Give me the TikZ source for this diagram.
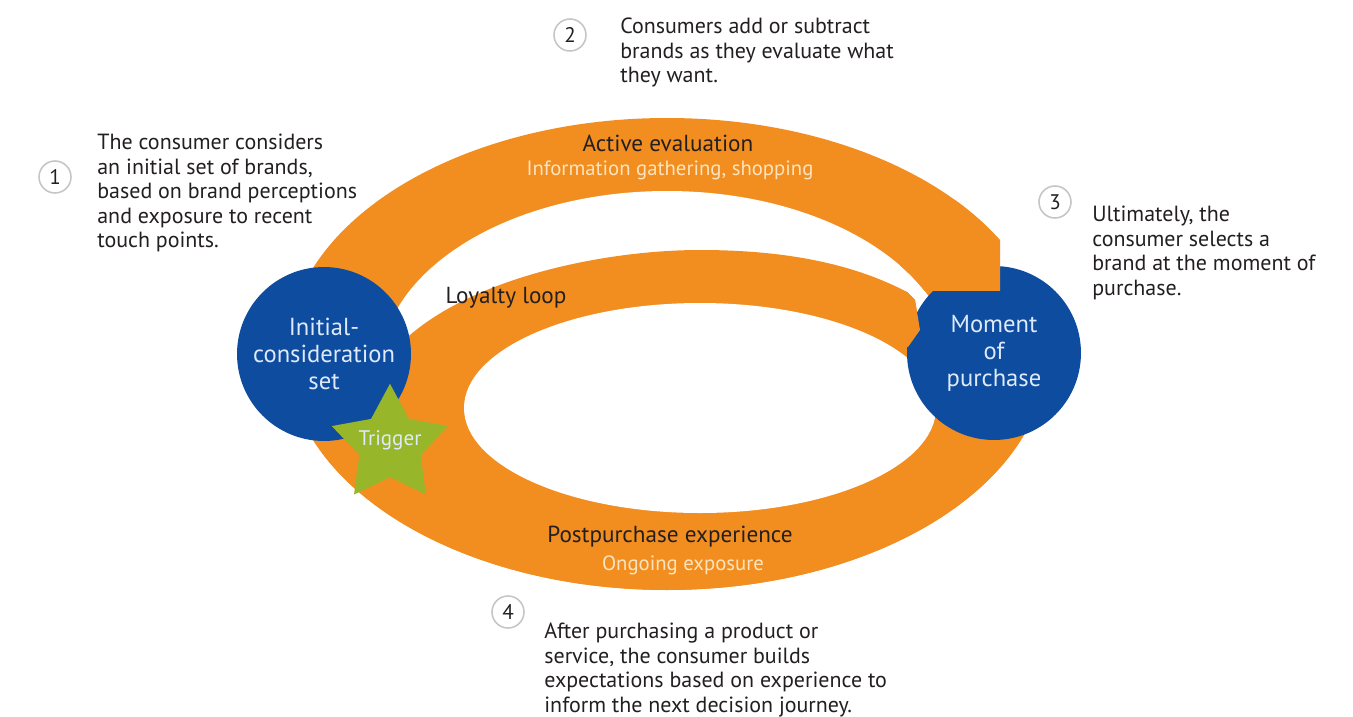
\documentclass[tikz,border=0pt]{standalone}
\usepackage{fontspec}
\setmainfont{PT Sans}
\usetikzlibrary{shapes.geometric}

\definecolor{ringorange}{RGB}{242,142,32}
\definecolor{stageblue}{RGB}{14,76,160}
\definecolor{stagetext}{RGB}{222,234,250}
\definecolor{triggergreen}{RGB}{152,182,42}
\definecolor{subcream}{RGB}{253,228,190}
\definecolor{bodygray}{RGB}{35,31,32}

\begin{document}
\begin{tikzpicture}[x=0.02cm, y=-0.02cm,
    stage/.style={circle, fill=stageblue, minimum size=3.48cm, inner sep=0pt,
        align=center, text=stagetext, font=\fontsize{14}{15.3}\selectfont},
    numcircle/.style={circle, draw=gray!45, line width=0.9pt, minimum size=0.64cm,
        inner sep=0pt, text=bodygray, font=\fontsize{12}{13}\selectfont},
    note/.style={anchor=north west, align=left, inner sep=0pt, text=bodygray,
        font=\fontsize{12.5}{13.9}\selectfont},
    bandtitle/.style={text=bodygray, inner sep=0pt, font=\fontsize{13.2}{14}\selectfont},
    bandsub/.style={text=subcream, inner sep=0pt, font=\fontsize{11.8}{13}\selectfont}]
    \useasboundingbox (0,0) rectangle (1353,717);

    % outer ring and active evaluation band
    \fill[ringorange] (667,354) ellipse [x radius=380, y radius=236];
    \fill[white] (667,370) ellipse [x radius=287, y radius=179];

    % loyalty loop and postpurchase band
    \fill[ringorange] (907,292) .. controls (850,262) and (780,250) .. (700,250)
        .. controls (610,250) and (480,275) .. (410,335) -- (330,400)
        -- plot[domain=160:10, samples=60, variable=\t] ({667+380*cos(\t)}, {354+236*sin(\t)})
        -- (920,345) -- (920,330) -- (915,300) -- cycle;
    \fill[white] (700,408) ellipse [x radius=236, y radius=105];

    % cut end of active evaluation
    \fill[white] (1000,100) rectangle (1060,290);

    % stages
    \node[stage] (initial) at (324,354) {Initial-\\consideration\\set};
    \node[stage] (purchase) at (994,353) {Moment\\of\\purchase};

    % band ends over the purchase circle
    \begin{scope}
        \clip (900,200) rectangle (1000,290);
        \fill[ringorange, even odd rule] (667,354) ellipse [x radius=380, y radius=236]
            (667,370) ellipse [x radius=287, y radius=179];
    \end{scope}
    \fill[ringorange] (895,288) -- (907,292) -- (915,300) -- (920,330) -- (908,347) -- (895,346) -- cycle;

    % trigger
    \node[star, star points=5, star point ratio=1.9, minimum size=2.45cm, inner sep=0pt,
        fill=triggergreen,
        label={[text=stagetext, font=\fontsize{12}{13}\selectfont, yshift=0.1cm]center:Trigger}] (trigger) at (390,445) {};

    % band labels
    \node[bandtitle] (activetitle) at (668,143) {Active evaluation};
    \node[bandsub] (activesub) at (670,170) {Information gathering, shopping};
    \node[bandtitle] (loyaltytitle) at (506,298) {Loyalty loop};
    \node[bandtitle] (posttitle) at (670,537) {Postpurchase experience};
    \node[bandsub] (postsub) at (683,565) {Ongoing exposure};

    % numbered notes
    \node[numcircle] (n1) at (55,177) {1};
    \node[note] (note1) at (97,134) {The consumer considers\\an initial set of brands,\\based on brand perceptions\\and exposure to recent\\touch points.};
    \node[numcircle] (n2) at (570,35) {2};
    \node[note] (note2) at (620,18) {Consumers add or subtract\\brands as they evaluate what\\they want.};
    \node[numcircle] (n3) at (1055,202) {3};
    \node[note] (note3) at (1092,206) {Ultimately, the\\consumer selects a\\brand at the moment of\\purchase.};
    \node[numcircle] (n4) at (508,612) {4};
    \node[note] (note4) at (544,623) {After purchasing a product or\\service, the consumer builds\\expectations based on experience to\\inform the next decision journey.};
\end{tikzpicture}
\end{document}
